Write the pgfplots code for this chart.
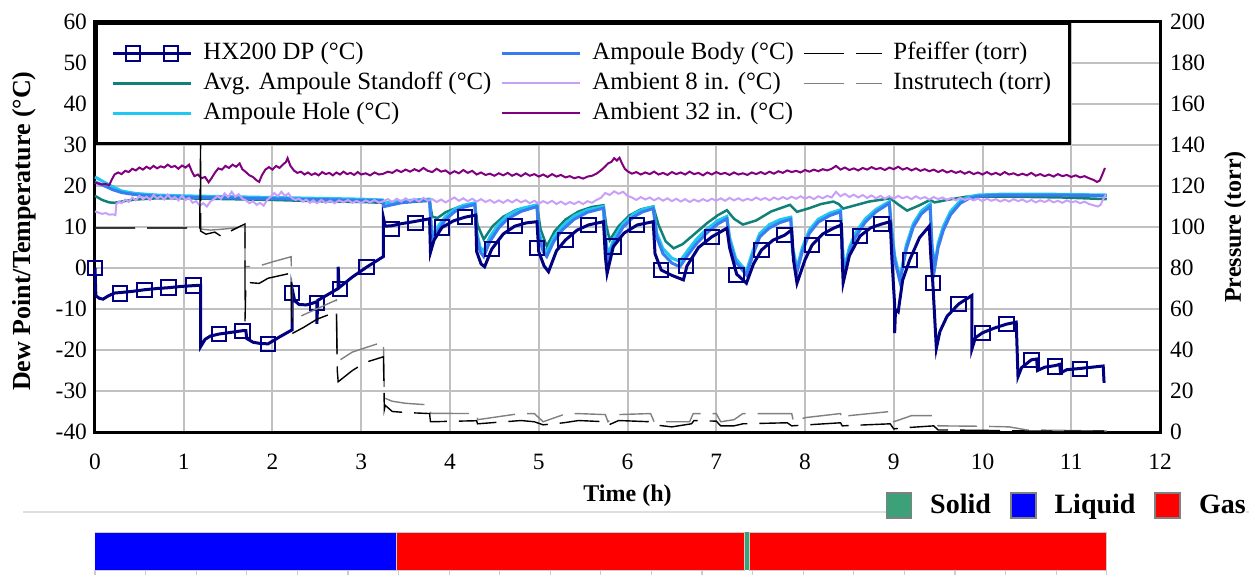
\documentclass[border=0pt]{standalone}
\usepackage{fontspec}
\setmainfont{Liberation Serif}
\usepackage{pgfplots}
\pgfplotsset{compat=1.18}

\definecolor{dpnavy}{RGB}{0,0,128}
\definecolor{standoff}{RGB}{16,128,120}
\definecolor{hole}{RGB}{30,200,240}
\definecolor{body}{RGB}{55,125,240}
\definecolor{amb8}{RGB}{200,160,250}
\definecolor{amb32}{RGB}{128,0,128}
\definecolor{instru}{RGB}{128,128,128}
\definecolor{gridc}{RGB}{192,192,192}
\definecolor{solidc}{RGB}{60,160,120}
\definecolor{liquidc}{RGB}{0,0,255}
\definecolor{gasc}{RGB}{255,0,0}

\pgfplotsset{
  lineleg/.style={legend image code/.code={
    \draw[##1] (0pt,0pt) -- (39pt,0pt);
    \path (43pt,0pt);}},
  dplegend/.style={legend image code/.code={
    \draw[##1] (0pt,0pt) -- (39pt,0pt);
    \draw[##1] plot[only marks] coordinates {(10pt,0pt) (29pt,0pt)};
    \path (43pt,0pt);}},
}

\begin{document}
\begin{tikzpicture}
\useasboundingbox (-47.5pt,-71.5pt) rectangle (577pt,216pt);
\pgfplotsset{every axis/.append style={
  scale only axis, width=532.5pt, height=205pt, xmin=0, xmax=12,
  tick style={draw=none}, major tick length=0pt,
  /pgf/number format/assume math mode=true,
  tick label style={font=\fontsize{11.7}{13}\selectfont},
  label style={font=\fontsize{12}{14}\selectfont\bfseries},
}}

% separator line above the phase bar
\draw[gray!25, line width=0.6pt] (-36pt,-40pt) -- (577pt,-40pt);

% temperature axis
\begin{axis}[
  ymin=-40, ymax=60, ytick={-40,-30,...,60}, xtick={0,1,...,12},
  grid=major, grid style={draw=gridc, line width=1pt},
  axis line style={line width=1.5pt},
  clip=false,
  xlabel={Time (h)}, ylabel={Dew Point/Temperature (°C)},
  xlabel style={at={(axis description cs:0.5,-0.155)}, anchor=center},
  ylabel style={at={(axis description cs:-0.066,0.49)}, anchor=center,
    font=\fontsize{13}{15}\selectfont\bfseries},
  xticklabel style={yshift=-7.5pt},
  yticklabel style={xshift=-0.5pt},
  legend columns=3,
  legend cell align=left,
  legend style={at={(0,1)}, anchor=north west, draw=black, line width=1.5pt,
    fill=white, font=\fontsize{12.4}{14}\selectfont, inner sep=7.5pt,
    nodes={inner sep=1.5pt, text height=9pt, text depth=3pt},
    /tikz/every even column/.append style={column sep=3pt}},
  lineleg,
]
\addlegendimage{dpnavy, line width=1.5pt, mark=square, mark size=3.6pt,
  mark options={line width=1pt, solid}, dplegend}
\addlegendentry{HX200 DP (°C)}
\addlegendimage{body, line width=1.5pt}
\addlegendentry{Ampoule Body (°C)}
\addlegendimage{black, line width=0.8pt, dash pattern=on 20pt off 6pt}
\addlegendentry{Pfeiffer (torr)}
\addlegendimage{standoff, line width=1.25pt}
\addlegendentry{Avg. Ampoule Standoff (°C)}
\addlegendimage{amb8, line width=1pt}
\addlegendentry{Ambient 8 in. (°C)}
\addlegendimage{instru, line width=0.8pt, dash pattern=on 20pt off 6pt}
\addlegendentry{Instrutech (torr)}
\addlegendimage{hole, line width=1.5pt}
\addlegendentry{Ampoule Hole (°C)}
\addlegendimage{amb32, line width=1pt}
\addlegendentry{Ambient 32 in. (°C)}

% Avg. Ampoule Standoff
\addplot[forget plot, standoff, line width=1.25pt] coordinates {
(0,17.6) (0.08,16.6) (0.16,16.0) (0.22,15.9) (0.3,16.2) (0.45,16.7) (0.7,17.0) (1.0,17.0) (1.5,16.8) (2.0,16.6) (2.5,16.3) (3.0,16.1) (3.25,15.9) (3.5,16.0) (3.77,16.4) (3.80,12.5) (3.86,12.2) (3.95,13.6) (4.1,14.9) (4.28,15.6) (4.31,10.5) (4.38,7.0) (4.48,10.2) (4.6,12.5) (4.75,14.2) (4.98,15.3) (5.02,9.5) (5.09,5.3) (5.18,9.0) (5.30,11.8) (5.45,13.8) (5.60,14.9) (5.73,15.3) (5.76,10.5) (5.80,6.8) (5.90,10.2) (6.02,12.8) (6.15,14.3) (6.29,15.0) (6.35,10.5) (6.43,6.5) (6.52,4.8) (6.62,5.8) (6.75,8.2) (6.90,11.0) (7.02,12.9) (7.12,14.1) (7.20,12.0) (7.30,10.6) (7.45,11.6) (7.62,13.8) (7.83,15.4) (7.91,13.7) (8.05,14.6) (8.18,15.6) (8.32,16.2) (8.38,15.6) (8.43,14.5) (8.55,15.2) (8.72,16.2) (8.96,17.0) (9.05,15.5) (9.15,14.0) (9.28,15.2) (9.41,16.6) (9.46,16.0) (9.60,16.6) (9.82,17.4) (10.3,17.4) (10.9,17.2) (11.4,16.8)
};
% Ampoule Hole
\addplot[forget plot, hole, line width=1.5pt] coordinates {
(0,22.2) (0.1,21.0) (0.2,19.8) (0.3,18.8) (0.45,18.2) (0.7,17.8) (1.0,17.6) (1.5,17.4) (2.0,17.2) (2.5,17.0) (3.0,16.8) (3.24,16.6) (3.26,15.8) (3.4,16.2) (3.6,16.6) (3.77,16.8) (3.79,10.0) (3.81,7.8) (3.86,10.0) (3.95,12.6) (4.05,14.3) (4.15,15.3) (4.28,15.9) (4.30,9.0) (4.34,5.0) (4.38,4.2) (4.45,7.6) (4.55,10.8) (4.65,12.9) (4.8,14.5) (4.98,15.4) (5.00,9.0) (5.05,5.0) (5.09,3.8) (5.17,7.5) (5.27,10.3) (5.40,12.7) (5.55,14.2) (5.73,15.0) (5.75,8.0) (5.78,3.2) (5.85,7.3) (5.95,10.8) (6.07,13.2) (6.17,14.3) (6.29,14.9) (6.33,8.5) (6.40,4.7) (6.50,2.4) (6.59,1.6) (6.68,4.3) (6.78,7.1) (6.90,9.6) (7.02,11.6) (7.12,12.6) (7.15,7.5) (7.22,2.3) (7.34,-0.8) (7.41,4.0) (7.49,8.4) (7.60,10.6) (7.72,11.8) (7.84,12.4) (7.86,5.0) (7.91,0.0) (7.97,5.0) (8.05,9.3) (8.15,11.9) (8.28,13.4) (8.40,14.2) (8.42,6.0) (8.44,-0.4) (8.50,5.0) (8.57,8.6) (8.68,12.0) (8.80,14.3) (8.95,16.2) (8.97,11.0) (9.01,3.0) (9.07,-2.5) (9.14,5.5) (9.22,10.8) (9.31,13.9) (9.41,15.6) (9.43,6.0) (9.46,0.2) (9.50,6.0) (9.56,10.2) (9.64,13.8) (9.75,16.4) (9.85,17.4) (9.95,17.8) (10.2,18.0) (10.8,18.0) (11.4,17.8)
};
% Ampoule Body
\addplot[forget plot, body, line width=1.5pt] coordinates {
(0,21.0) (0.1,20.1) (0.2,19.1) (0.3,18.4) (0.45,17.9) (0.7,17.5) (1.0,17.3) (1.5,17.1) (2.0,16.9) (2.5,16.7) (3.0,16.5) (3.24,16.4) (3.26,15.0) (3.32,15.3) (3.45,15.9) (3.6,16.3) (3.77,16.5) (3.79,9.0) (3.81,6.8) (3.86,9.0) (3.95,11.8) (4.05,13.7) (4.15,14.8) (4.28,15.5) (4.30,8.0) (4.34,4.0) (4.38,2.8) (4.45,6.5) (4.55,9.8) (4.65,12.0) (4.8,13.8) (4.98,15.0) (5.00,8.0) (5.05,4.0) (5.09,2.8) (5.17,6.5) (5.27,9.4) (5.40,11.9) (5.55,13.6) (5.73,14.6) (5.75,7.0) (5.78,2.0) (5.85,6.3) (5.95,10.0) (6.07,12.5) (6.17,13.7) (6.29,14.5) (6.33,7.5) (6.40,3.5) (6.50,1.2) (6.59,0.3) (6.68,3.2) (6.78,6.0) (6.90,8.7) (7.02,10.8) (7.12,12.0) (7.15,6.5) (7.22,1.5) (7.34,-1.7) (7.41,3.0) (7.49,7.6) (7.60,9.8) (7.72,11.1) (7.84,11.9) (7.86,4.0) (7.91,-0.9) (7.97,4.0) (8.05,8.5) (8.15,11.2) (8.28,12.8) (8.40,13.7) (8.42,5.0) (8.44,-1.3) (8.50,4.0) (8.57,7.6) (8.68,11.2) (8.80,13.7) (8.95,15.8) (8.97,10.0) (9.01,2.0) (9.07,-3.3) (9.14,4.5) (9.22,10.0) (9.31,13.2) (9.41,15.0) (9.43,5.0) (9.46,-0.1) (9.50,5.0) (9.56,9.3) (9.64,13.0) (9.75,15.8) (9.85,17.0) (9.95,17.5) (10.2,17.8) (10.8,17.8) (11.4,17.6)
};
% Ambient 8 in.
\addplot[forget plot, amb8, line width=1pt] coordinates {
(0.00,13.8) (0.04,13.5) (0.08,13.2) (0.12,13.4) (0.16,13.0) (0.20,13.1) (0.23,12.9) (0.24,15.6) (0.27,16.2) (0.30,15.8) (0.34,16.7) (0.38,16.1) (0.42,17.2) (0.46,16.5) (0.50,17.6) (0.54,16.8) (0.58,17.4) (0.62,16.6) (0.66,17.8) (0.70,16.9) (0.74,17.5) (0.78,16.7) (0.82,17.9) (0.86,16.8) (0.90,17.3) (0.94,16.5) (0.98,17.6) (1.02,16.6) (1.06,17.1) (1.10,15.9) (1.14,16.3) (1.18,15.2) (1.22,15.8) (1.26,15.0) (1.30,16.2) (1.34,16.8) (1.38,17.6) (1.42,16.9) (1.46,18.2) (1.50,17.3) (1.54,18.6) (1.58,17.4) (1.62,18.0) (1.66,16.9) (1.70,16.5) (1.74,15.8) (1.78,16.3) (1.82,15.4) (1.86,15.9) (1.90,15.2) (1.94,16.6) (1.98,17.4) (2.02,18.3) (2.06,17.5) (2.10,18.6) (2.14,17.6) (2.18,18.2) (2.22,17.0) (2.26,16.6) (2.30,16.9) (2.34,16.2) (2.38,16.7) (2.42,15.9) (2.46,16.5) (2.50,15.8) (2.55,16.6) (2.60,15.9) (2.65,16.4) (2.70,15.8) (2.75,16.5) (2.80,16.0) (2.85,16.6) (2.90,15.9) (2.95,16.4) (3.00,15.8) (3.05,16.5) (3.10,16.0) (3.15,16.6) (3.20,15.9) (3.25,16.3) (3.30,16.8) (3.35,16.1) (3.40,16.9) (3.45,16.2) (3.50,17.0) (3.55,16.3) (3.60,16.9) (3.65,16.2) (3.70,17.1) (3.75,16.4) (3.80,16.8) (3.85,16.1) (3.90,16.7) (3.95,16.0) (4.00,16.6) (4.05,17.2) (4.10,16.4) (4.15,17.0) (4.20,16.3) (4.25,16.9) (4.30,16.2) (4.35,16.8) (4.40,16.1) (4.45,16.6) (4.50,15.9) (4.55,16.5) (4.60,15.9) (4.65,16.6) (4.70,16.0) (4.75,16.7) (4.80,16.0) (4.85,16.5) (4.90,15.8) (4.95,16.4) (5.00,15.7) (5.05,16.3) (5.10,15.8) (5.15,16.4) (5.20,15.6) (5.25,16.2) (5.30,15.5) (5.35,16.1) (5.40,15.6) (5.45,16.2) (5.50,15.6) (5.55,16.3) (5.60,15.9) (5.65,16.6) (5.70,17.1) (5.75,18.3) (5.80,17.8) (5.85,18.7) (5.90,18.1) (5.95,18.6) (6.00,17.6) (6.05,17.2) (6.10,16.6) (6.15,17.3) (6.20,16.7) (6.25,17.2) (6.30,16.5) (6.35,17.1) (6.40,16.4) (6.45,17.0) (6.50,16.3) (6.55,16.9) (6.60,16.2) (6.65,16.8) (6.70,16.1) (6.75,16.7) (6.80,16.2) (6.85,16.8) (6.90,16.3) (6.95,16.9) (7.00,16.4) (7.05,17.0) (7.10,16.4) (7.15,17.1) (7.20,16.5) (7.25,17.0) (7.30,16.4) (7.35,16.9) (7.40,16.5) (7.45,17.2) (7.50,16.6) (7.55,17.1) (7.60,16.5) (7.65,17.2) (7.70,16.7) (7.75,17.3) (7.80,16.8) (7.85,17.4) (7.90,16.9) (7.95,17.5) (8.00,16.9) (8.05,17.4) (8.10,16.8) (8.15,17.5) (8.20,17.0) (8.25,17.6) (8.30,17.2) (8.35,18.6) (8.40,17.5) (8.45,18.1) (8.50,17.3) (8.55,17.9) (8.60,17.2) (8.65,17.8) (8.70,17.1) (8.75,17.7) (8.80,17.0) (8.85,17.6) (8.90,16.9) (8.95,17.5) (9.00,16.9) (9.05,17.6) (9.10,17.0) (9.15,17.4) (9.20,16.8) (9.25,17.5) (9.30,16.9) (9.35,17.3) (9.40,16.7) (9.45,17.3) (9.50,16.8) (9.55,17.2) (9.60,16.6) (9.65,17.1) (9.70,16.5) (9.75,17.1) (9.80,16.6) (9.85,17.0) (9.90,16.5) (9.95,16.9) (10.00,16.3) (10.05,16.9) (10.10,16.4) (10.15,16.8) (10.20,16.2) (10.25,16.7) (10.30,16.2) (10.35,16.8) (10.40,16.3) (10.45,16.7) (10.50,16.1) (10.55,16.6) (10.60,16.0) (10.65,16.5) (10.70,16.1) (10.75,16.6) (10.80,16.0) (10.85,16.4) (10.90,15.9) (10.95,16.5) (11.00,16.0) (11.05,16.3) (11.10,15.8) (11.15,16.2) (11.20,15.6) (11.25,15.3) (11.30,15.0) (11.33,15.4) (11.36,16.8) (11.39,17.9)
};
% Ambient 32 in.
\addplot[forget plot, amb32, line width=1pt] coordinates {
(0.00,20.8) (0.04,20.6) (0.08,20.4) (0.12,20.5) (0.16,20.2) (0.19,21.6) (0.22,22.8) (0.26,23.3) (0.30,22.9) (0.34,23.7) (0.38,23.4) (0.42,24.2) (0.46,23.8) (0.50,24.5) (0.54,24.0) (0.58,24.7) (0.62,24.2) (0.66,24.9) (0.70,24.3) (0.74,24.8) (0.78,24.5) (0.82,25.2) (0.86,24.6) (0.90,24.9) (0.94,24.2) (0.98,25.0) (1.02,24.5) (1.06,25.2) (1.09,23.6) (1.12,22.4) (1.16,22.8) (1.20,21.9) (1.24,22.2) (1.28,20.9) (1.31,21.8) (1.35,23.2) (1.39,24.3) (1.43,24.0) (1.47,24.9) (1.51,24.4) (1.55,25.2) (1.59,24.7) (1.63,25.5) (1.66,24.1) (1.70,23.4) (1.74,22.6) (1.78,22.2) (1.82,21.4) (1.85,21.0) (1.88,22.6) (1.92,24.0) (1.96,24.6) (2.00,24.0) (2.04,24.9) (2.08,24.4) (2.12,25.3) (2.15,25.8) (2.17,26.8) (2.20,25.0) (2.24,23.8) (2.28,23.2) (2.32,23.5) (2.36,22.8) (2.40,23.3) (2.44,22.7) (2.48,23.1) (2.52,22.6) (2.56,23.4) (2.60,22.9) (2.64,23.2) (2.68,22.6) (2.72,23.3) (2.76,22.8) (2.80,23.5) (2.84,22.9) (2.88,23.2) (2.92,22.7) (2.96,23.4) (3.00,22.8) (3.05,23.1) (3.10,22.6) (3.15,23.3) (3.20,22.8) (3.25,23.0) (3.30,23.5) (3.35,23.2) (3.40,23.9) (3.45,23.4) (3.50,24.0) (3.55,23.5) (3.60,24.1) (3.65,23.6) (3.70,24.4) (3.75,23.7) (3.80,23.4) (3.85,24.2) (3.90,23.5) (3.95,23.8) (4.00,23.0) (4.05,23.6) (4.10,23.1) (4.15,23.9) (4.20,23.2) (4.25,23.7) (4.30,22.8) (4.35,23.3) (4.40,22.7) (4.45,23.0) (4.50,22.5) (4.55,23.1) (4.60,22.6) (4.65,23.2) (4.70,22.5) (4.75,23.0) (4.80,22.4) (4.85,23.1) (4.90,22.5) (4.95,22.9) (5.00,22.3) (5.05,22.8) (5.10,22.2) (5.15,22.9) (5.20,22.3) (5.25,22.7) (5.30,22.1) (5.35,22.4) (5.40,21.9) (5.45,22.2) (5.50,21.8) (5.55,22.3) (5.60,22.5) (5.65,23.0) (5.70,23.8) (5.75,24.8) (5.78,25.5) (5.82,25.9) (5.85,26.8) (5.88,26.2) (5.91,26.9) (5.94,25.4) (5.97,24.2) (6.00,23.6) (6.05,23.0) (6.10,23.4) (6.15,22.8) (6.20,23.3) (6.25,22.9) (6.30,23.5) (6.35,22.8) (6.40,23.2) (6.45,22.7) (6.50,23.4) (6.55,22.9) (6.60,23.3) (6.65,22.8) (6.70,23.5) (6.75,22.9) (6.80,23.2) (6.85,22.6) (6.90,23.3) (6.95,22.8) (7.00,23.4) (7.05,22.9) (7.10,23.2) (7.15,22.7) (7.20,23.3) (7.25,22.8) (7.30,23.1) (7.35,22.7) (7.40,23.3) (7.45,22.9) (7.50,23.4) (7.55,22.9) (7.60,23.5) (7.65,23.0) (7.70,23.6) (7.75,23.2) (7.80,23.8) (7.85,23.4) (7.90,23.7) (7.95,23.3) (8.00,23.9) (8.05,23.5) (8.10,24.0) (8.15,23.6) (8.20,24.1) (8.25,23.8) (8.30,24.2) (8.35,24.9) (8.40,24.0) (8.45,24.5) (8.50,23.9) (8.55,24.3) (8.60,23.8) (8.65,24.4) (8.70,24.0) (8.75,24.6) (8.80,24.1) (8.85,24.4) (8.90,23.9) (8.95,24.5) (9.00,24.1) (9.05,24.7) (9.10,24.0) (9.15,24.4) (9.20,23.8) (9.25,24.3) (9.30,23.7) (9.35,24.1) (9.40,23.6) (9.45,24.0) (9.50,23.4) (9.55,23.9) (9.60,23.3) (9.65,23.7) (9.70,23.2) (9.75,23.6) (9.80,23.0) (9.85,23.5) (9.90,22.9) (9.95,23.3) (10.00,22.8) (10.05,23.4) (10.10,22.8) (10.15,23.2) (10.20,22.7) (10.25,23.4) (10.30,22.8) (10.35,23.1) (10.40,22.6) (10.45,23.0) (10.50,22.6) (10.55,23.2) (10.60,22.5) (10.65,22.9) (10.70,22.4) (10.75,22.8) (10.80,22.3) (10.85,22.9) (10.90,22.4) (10.95,22.7) (11.00,22.2) (11.05,22.6) (11.10,22.1) (11.15,22.4) (11.20,21.9) (11.25,21.5) (11.29,21.0) (11.32,21.3) (11.35,22.8) (11.38,24.4)
};
% HX200 DP line
\addplot[forget plot, dpnavy, line width=1.5pt] coordinates {
(0,0) (0.01,-6.8) (0.05,-7.4) (0.09,-7.6) (0.15,-6.8) (0.22,-6.1) (0.28,-6.0) (0.42,-5.7) (0.56,-5.3) (0.7,-5.0) (0.83,-4.8) (0.97,-4.5) (1.11,-4.3) (1.19,-4.2) (1.19,-19.2) (1.24,-17.4) (1.30,-16.6) (1.40,-16.1) (1.53,-15.7) (1.66,-15.3) (1.70,-15.3) (1.71,-17.2) (1.78,-18.1) (1.86,-18.4) (1.95,-18.5) (2.08,-16.8) (2.22,-15.1) (2.22,-4.9) (2.25,-8.0) (2.30,-8.9) (2.38,-9.0) (2.45,-8.6) (2.50,-8.2) (2.50,-13.6) (2.51,-7.9) (2.63,-6.4) (2.74,-5.0) (2.74,0.3) (2.75,-4.8) (2.90,-2.2) (3.06,0.2) (3.25,2.8) (3.25,12.2) (3.27,10.2) (3.34,10.3) (3.45,10.8) (3.59,11.3) (3.77,12.0) (3.78,3.8) (3.82,6.8) (3.91,9.9) (4.04,11.5) (4.17,12.4) (4.29,12.9) (4.30,4.0) (4.35,1.0) (4.39,0.3) (4.47,4.6) (4.60,8.3) (4.73,10.2) (4.86,11.0) (4.98,11.3) (5.00,4.0) (5.06,0.5) (5.11,-0.9) (5.20,4.2) (5.30,6.8) (5.43,9.2) (5.56,10.5) (5.73,11.3) (5.75,3.0) (5.77,-1.3) (5.84,5.2) (5.96,8.5) (6.11,10.5) (6.29,11.3) (6.31,3.5) (6.38,-0.5) (6.50,-1.8) (6.63,-2.9) (6.67,0.5) (6.80,5.0) (6.95,7.6) (7.12,9.7) (7.15,5.0) (7.23,-1.5) (7.34,-3.7) (7.42,1.0) (7.51,4.4) (7.64,6.8) (7.77,8.0) (7.85,9.3) (7.87,2.0) (7.91,-3.7) (8.00,2.0) (8.08,5.6) (8.20,8.3) (8.32,9.7) (8.41,10.5) (8.42,2.0) (8.43,-3.6) (8.50,3.0) (8.62,7.8) (8.74,9.8) (8.86,10.7) (8.96,11.3) (8.98,2.0) (9.01,-9.0) (9.01,-15.9) (9.02,-10.2) (9.05,-10.7) (9.10,-3.0) (9.18,2.0) (9.29,7.4) (9.40,10.2) (9.42,2.0) (9.44,-3.6) (9.48,-19.6) (9.52,-15.5) (9.60,-11.8) (9.73,-8.8) (9.88,-6.7) (9.88,-19.8) (9.92,-17.0) (10.00,-15.8) (10.14,-14.6) (10.27,-13.7) (10.38,-13.2) (10.40,-26.5) (10.44,-24.3) (10.55,-22.4) (10.61,-22.2) (10.62,-25.0) (10.70,-24.2) (10.82,-23.8) (10.87,-23.5) (10.88,-25.6) (10.95,-24.8) (11.10,-24.5) (11.36,-23.9) (11.37,-28.0)
};
% HX200 DP markers
\addplot[forget plot, dpnavy, only marks, mark=square, mark size=3.6pt, mark options={line width=1pt}] coordinates {
(0,0) (0.28,-6.2) (0.56,-5.4) (0.83,-4.8) (1.11,-4.3) (1.40,-16.1) (1.66,-15.3) (1.95,-18.5) (2.22,-6.1) (2.50,-8.5) (2.76,-5.1) (3.06,0.3) (3.34,9.5) (3.61,11.0) (3.91,9.9) (4.17,12.4) (4.47,4.6) (4.73,10.2) (4.98,4.9) (5.30,6.8) (5.56,10.5) (5.84,5.2) (6.11,10.5) (6.38,-0.5) (6.66,0.5) (6.95,7.6) (7.23,-1.7) (7.51,4.4) (7.77,8.0) (8.08,5.6) (8.32,9.7) (8.62,7.8) (8.86,10.7) (9.18,2.0) (9.44,-3.6) (9.73,-8.8) (10.00,-15.8) (10.27,-13.7) (10.55,-22.4) (10.82,-24.0) (11.10,-24.7)
};
\end{axis}

% pressure axis
\begin{axis}[
  ymin=0, ymax=200, ytick={0,20,...,200},
  axis x line=none, axis y line*=right,
  axis line style={line width=1.5pt, -},
  ylabel={Pressure (torr)},
  ylabel style={at={(axis description cs:1.0704,0.5)}, anchor=center},
  yticklabel style={xshift=1.5pt},
]
% Instrutech
\addplot[instru, line width=0.7pt, dash pattern=on 20pt off 6pt] coordinates {
(0,99.5) (1.19,99.5) (1.19,99) (1.3,98.5) (1.45,99) (1.69,100) (1.69,80.6) (1.85,81) (2.0,83) (2.21,85.5) (2.22,54.6) (2.72,64.4) (2.73,34.3) (2.9,39) (3.25,44) (3.26,16.6) (3.35,15) (3.5,14) (3.77,13.2) (3.78,9.1) (4.3,9) (4.31,6) (4.79,9) (4.95,9) (5.05,5) (5.28,8.5) (5.43,9) (5.75,8.5) (5.78,5) (5.9,8.5) (6.26,9) (6.3,5) (6.7,5) (6.74,9) (7.0,9) (7.05,5) (7.2,6) (7.3,9) (7.85,9) (7.87,5) (8.0,7) (8.4,9) (8.42,6) (8.5,8) (8.96,10) (9.0,5) (9.2,8) (9.45,8) (9.5,3) (10,2.8) (10.3,2.5) (10.5,1) (11.4,0.5)
};
% Pfeiffer
\addplot[black, line width=0.7pt, dash pattern=on 20pt off 6pt] coordinates {
(0,99.5) (1.18,99.5) (1.19,141) (1.19,98) (1.25,96.5) (1.35,97.5) (1.42,95.5) (1.55,98.5) (1.69,101.5) (1.69,54) (1.70,73) (1.85,72.5) (1.95,75) (2.21,77.5) (2.22,48) (2.35,51) (2.5,55) (2.72,58.7) (2.73,30) (2.74,24.5) (2.9,30) (3.05,34) (3.25,36.7) (3.26,11) (3.27,13) (3.35,10) (3.5,9.5) (3.77,9) (3.78,5) (4.3,5.5) (4.31,4) (4.8,5.6) (4.95,5) (5.05,3.5) (5.28,4.5) (5.45,5.6) (5.75,5) (5.78,3.3) (5.9,5.6) (6.26,5) (6.3,3.5) (6.5,2.5) (6.72,4) (6.75,5.6) (7.0,5.3) (7.05,3) (7.2,3) (7.3,4) (7.8,4.5) (7.85,3) (8.4,4.5) (8.42,3) (8.96,4) (9.0,1.5) (9.1,2) (9.45,3) (9.5,1) (10,0.8) (10.5,0.5) (11.4,0.4)
};
\end{axis}

% phase bar
\begin{axis}[
  at={(0pt,-69pt)}, anchor=south west, height=19pt,
  ymin=0, ymax=1, xbar stacked, bar width=19pt,
  axis y line=none, axis x line*=bottom, axis line style={draw=none},
  xtick={0,0.57,1.14,1.71,2.28,2.85,3.42,3.99,4.56,5.13,5.70,6.27,6.84,7.41,7.98,8.55,9.12,9.69,10.26,10.83,11.40},
  xticklabels={}, tick style={draw=gray!40, line width=0.6pt}, major tick length=2.5pt, tick align=outside,
  legend columns=3,
  legend style={at={(axis description cs:0.742,1.70)}, anchor=west, draw=none, fill=white,
    inner sep=0pt, font=\fontsize{14}{16}\selectfont\bfseries,
    nodes={inner sep=0pt},
    /tikz/every even column/.append style={column sep=9.5pt}},
  legend image code/.code={\draw[#1] (0pt,-6.25pt) rectangle (12.5pt,6.25pt); \path (21.5pt,0pt);},
]
\addlegendimage{fill=solidc, draw=gray, line width=0.8pt}
\addlegendentry{Solid}
\addlegendimage{fill=liquidc, draw=gray, line width=0.8pt}
\addlegendentry{Liquid}
\addlegendimage{fill=gasc, draw=gray, line width=0.8pt}
\addlegendentry{Gas}
\addplot[fill=liquidc, draw=gray!40, line width=0.5pt] coordinates {(3.40,0.5)};
\addplot[fill=gasc, draw=gray!40, line width=0.5pt] coordinates {(3.92,0.5)};
\addplot[fill=solidc, draw=none] coordinates {(0.05,0.5)};
\addplot[fill=gasc, draw=gray!40, line width=0.5pt] coordinates {(4.03,0.5)};
\end{axis}
\end{tikzpicture}
\end{document}
